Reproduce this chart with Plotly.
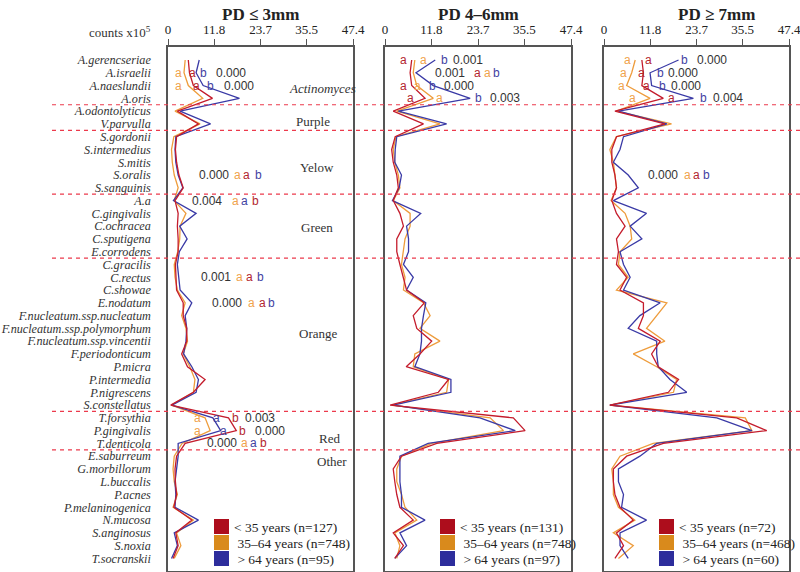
import plotly.graph_objects as go

species = [
    "A.gerencseriae", "A.israelii", "A.naeslundii", "A.oris",
    "A.odontolyticus", "V.parvulla",
    "S.gordonii", "S.intermedius", "S.mitis", "S.oralis", "S.sanguinis",
    "A.a", "C.gingivalis", "C.ochracea", "C.sputigena", "E.corrodens",
    "C.gracilis", "C.rectus", "C.showae", "E.nodatum",
    "F.nucleatum.ssp.nucleatum", "F.nucleatum.ssp.polymorphum",
    "F.nucleatum.ssp.vincentii", "F.periodonticum", "P.micra",
    "P.intermedia", "P.nigrescens", "S.constellatus",
    "T.forsythia", "P.gingivalis", "T.denticola",
    "E.saburreum", "G.morbillorum", "L.buccalis", "P.acnes",
    "P.melaninogenica", "N.mucosa", "S.anginosus", "S.noxia", "T.socranskii",
]
groups = ["Actinomyces", "Purple", "Yelow", "Green", "Orange", "Red", "Other"]
group_sizes = [4, 2, 5, 5, 12, 3, 9]

panels = ["PD \u2264 3mm", "PD 4\u20136mm", "PD \u2265 7mm"]
ages = ["< 35 years", "35\u201364 years", "> 64 years"]
n_pd3 = [127, 748, 95]
n_pd46 = [131, 748, 97]
n_pd7 = [72, 468, 60]
ticks = [0, 11.8, 23.7, 35.5, 47.4]

# mean counts x10^5, one value per species
pd3_young = [5.2, 5.5, 6.5, 11.4, 2.4, 7.8, 2.2, 1.9, 2.2, 2.8, 3.9, 1.8, 2.6, 2.4, 2.6, 2.6, 1.9, 2.0, 2.2, 3.9,
             3.9, 4.8, 4.8, 3.5, 5.0, 9.5, 6.5, 0.7, 15.5, 17.5, 4.4, 2.2, 1.8, 1.9, 2.2, 1.5, 6.1, 2.0, 2.6, 1.3]
pd3_mid = [4.4, 4.1, 5.2, 8.9, 1.8, 8.2, 1.5, 0.9, 1.1, 1.6, 2.6, 1.6, 4.6, 3.1, 3.0, 2.5, 1.6, 1.8, 2.4, 4.4,
           3.5, 4.6, 5.0, 3.9, 5.6, 6.9, 6.5, 0.9, 9.5, 10.8, 3.6, 1.6, 1.3, 1.6, 2.4, 1.3, 6.5, 2.2, 3.3, 1.6]
pd3_old = [8.0, 7.2, 9.0, 18.3, 3.1, 10.9, 2.0, 1.8, 2.0, 2.6, 3.8, 1.4, 7.2, 3.0, 4.9, 2.9, 2.4, 2.7, 3.1, 6.1,
           4.4, 4.8, 4.6, 4.0, 6.1, 7.8, 7.2, 1.0, 11.5, 13.5, 2.6, 2.6, 2.2, 1.8, 2.0, 1.8, 7.8, 1.6, 2.4, 0.9]

pd46_young = [6.8, 6.4, 6.8, 10.2, 2.1, 9.8, 2.6, 1.7, 2.1, 3.0, 3.4, 2.1, 3.8, 4.7, 3.0, 3.0, 3.8, 4.7, 5.5, 10.0,
              7.2, 8.1, 11.9, 8.9, 5.4, 16.2, 13.6, 1.3, 32.7, 35.7, 13.2, 4.2, 2.1, 2.5, 3.0, 3.8, 7.2, 2.1, 4.7, 2.5]
pd46_mid = [7.6, 7.2, 8.1, 12.3, 3.0, 14.0, 2.8, 2.1, 2.5, 3.4, 3.8, 2.1, 6.4, 6.4, 5.1, 4.7, 4.2, 5.1, 4.7, 9.8,
            11.5, 8.9, 14.0, 7.6, 7.2, 16.2, 15.7, 1.7, 26.8, 30.2, 11.9, 4.2, 3.0, 3.0, 4.2, 5.1, 8.1, 2.5, 3.8, 3.0]
pd46_old = [12.8, 7.9, 12.3, 21.7, 3.4, 15.7, 3.0, 2.6, 2.5, 4.2, 3.6, 1.9, 9.1, 5.5, 6.0, 6.0, 4.7, 7.2, 5.5, 10.4,
            9.8, 9.3, 9.3, 8.9, 7.6, 16.8, 16.8, 2.1, 24.2, 33.2, 11.0, 3.8, 3.8, 3.8, 4.2, 4.2, 10.2, 3.8, 5.5, 2.5]

pd7_young = [9.7, 10.1, 9.7, 15.2, 2.8, 15.6, 3.2, 2.0, 2.0, 2.8, 3.2, 2.0, 3.2, 5.4, 3.2, 3.7, 3.2, 5.8, 4.1, 10.1,
             10.1, 8.8, 14.4, 12.2, 13.9, 19.1, 16.5, 1.5, 34.0, 41.7, 15.2, 5.8, 2.4, 2.4, 2.8, 4.1, 7.5, 3.2, 5.0, 2.8]
pd7_mid = [8.0, 7.1, 5.8, 11.8, 3.2, 17.3, 3.2, 1.5, 2.4, 2.8, 3.2, 1.8, 5.4, 6.7, 7.1, 4.1, 3.7, 6.2, 3.2, 16.1,
           13.5, 10.9, 15.6, 7.5, 13.5, 18.6, 17.8, 1.5, 36.2, 37.9, 12.6, 4.1, 2.0, 2.4, 2.4, 3.7, 7.9, 2.4, 7.5, 3.7]
pd7_old = [19.1, 11.8, 12.2, 22.9, 3.7, 16.1, 5.0, 4.1, 2.4, 6.2, 8.8, 2.4, 10.9, 6.7, 9.7, 4.1, 5.0, 6.7, 5.0, 14.4,
           9.2, 6.2, 13.5, 13.5, 13.9, 16.9, 21.2, 1.5, 28.9, 37.9, 13.5, 9.2, 3.7, 3.7, 5.0, 4.5, 10.9, 4.1, 4.1, 6.2]

# p-values and letter groups: (panel, species row, p, x of p, [(letter, age, x)])
significance = [
    (0, 1, "0.000", 16.1, [("a", 1, 2.6), ("a", 0, 6.4), ("b", 2, 9.2)]),
    (0, 2, "0.000", 18.2, [("a", 1, 2.6), ("a", 0, 7.2), ("b", 2, 11.0)]),
    (0, 9, "0.000", 11.8, [("a", 1, 17.7), ("a", 0, 20.2), ("b", 2, 23.1)]),
    (0, 11, "0.004", 10.0, [("a", 1, 17.2), ("a", 2, 19.7), ("b", 0, 22.3)]),
    (0, 17, "0.001", 12.3, [("a", 1, 18.4), ("a", 0, 21.0), ("b", 2, 23.6)]),
    (0, 19, "0.000", 15.1, [("a", 1, 21.3), ("a", 0, 24.1), ("b", 2, 26.6)]),
    (0, 28, "0.003", 23.5, [("a", 1, 7.6), ("a", 2, 12.4), ("b", 0, 17.4)]),
    (0, 29, "0.000", 26.2, [("a", 1, 7.6), ("a", 2, 14.1), ("b", 0, 19.0)]),
    (0, 30, "0.000", 13.8, [("a", 1, 19.5), ("a", 2, 22.0), ("b", 0, 24.4)]),
    (1, 0, "0.001", 21.2, [("a", 0, 4.8), ("a", 1, 9.7), ("b", 2, 15.1)]),
    (1, 1, "0.001", 16.6, [("a", 0, 23.5), ("a", 1, 26.0), ("b", 2, 28.3)]),
    (1, 2, "0.000", 18.9, [("a", 0, 4.8), ("a", 1, 8.4), ("b", 2, 12.2)]),
    (1, 3, "0.003", 30.6, [("a", 0, 6.6), ("a", 1, 14.0), ("b", 2, 23.7)]),
    (2, 0, "0.000", 27.7, [("a", 1, 5.9), ("a", 0, 11.3), ("b", 2, 20.5)]),
    (2, 1, "0.000", 20.3, [("a", 1, 5.1), ("a", 0, 9.7), ("b", 2, 14.4)]),
    (2, 2, "0.000", 21.0, [("a", 1, 4.4), ("a", 0, 11.0), ("b", 2, 14.9)]),
    (2, 3, "0.004", 31.8, [("a", 1, 7.2), ("a", 0, 17.4), ("b", 2, 25.4)]),
    (2, 9, "0.000", 15.1, [("a", 1, 21.3), ("a", 0, 23.6), ("b", 2, 26.2)]),
]

group_label_y = [2.2, 4.8, 8.45, 13.1, 21.4, 29.6, 31.4]
group_label_x = [39.7, 37.2, 38.2, 38.2, 38.4, 41.5, 42.0]

line_colors = ["#c41c2c", "#ee9c3c", "#3a3aa6"]
box_colors = ["#ad0d1c", "#d98a1c", "#2d2d9c"]
letter_colors = ["#b3262e", "#f0a24c", "#4242a2"]
serif = "Liberation Serif"
sans = "Liberation Sans"

W, H = 800, 572
x_px = [(168, 353), (385, 571), (604, 789)]
y_top, y_bot = 47, 570.5
row0, row_step = 60, 12.78
rows = list(range(len(species)))


def px(x):
    return x / W


def py(y):
    return 1 - y / H


def note(**kw):
    kw.setdefault("showarrow", False)
    kw.setdefault("xanchor", "center")
    kw.setdefault("yanchor", "middle")
    fig.add_annotation(**kw)


series = [
    [pd3_young, pd3_mid, pd3_old],
    [pd46_young, pd46_mid, pd46_old],
    [pd7_young, pd7_mid, pd7_old],
]
counts = [n_pd3, n_pd46, n_pd7]

fig = go.Figure()
for p in range(3):
    sfx = "" if p == 0 else str(p + 1)
    for a in [1, 2, 0]:
        fig.add_trace(go.Scatter(
            x=series[p][a], y=rows, mode="lines",
            line=dict(color=line_colors[a], width=1.3),
            name=ages[a], xaxis="x" + sfx, yaxis="y" + sfx,
            showlegend=False, hoverinfo="skip",
        ))

layout = dict(
    width=W, height=H,
    margin=dict(l=0, r=0, t=0, b=0, autoexpand=False),
    paper_bgcolor="white", plot_bgcolor="white",
    showlegend=False,
)
yrange = [(y_bot - row0) / row_step, (y_top - row0) / row_step]
for p in range(3):
    sfx = "" if p == 0 else str(p + 1)
    layout["xaxis" + sfx] = dict(
        domain=[px(x_px[p][0]), px(x_px[p][1])], range=[0, 47.4],
        anchor="y" + sfx, side="top", automargin=False, ticklabeloverflow="allow",
        tickvals=ticks, ticktext=[str(t) if t else "0" for t in ticks],
        ticks="outside", ticklen=6, tickwidth=1.3, tickcolor="#555",
        tickfont=dict(family=serif, size=13, color="#222"),
        showline=True, linecolor="#555", linewidth=1.5, mirror=True,
        showgrid=False, zeroline=False,
    )
    ya = dict(
        domain=[py(y_bot), py(y_top)], range=yrange,
        anchor="x" + sfx, automargin=False, ticklabeloverflow="allow",
        showline=True, linecolor="#555", linewidth=1.5, mirror=True,
        showgrid=False, zeroline=False,
    )
    if p == 0:
        ya.update(tickvals=rows, ticktext=["<i>%s</i>" % s for s in species],
                  ticks="", ticklabelstandoff=13,
                  tickfont=dict(family=serif, size=12.2, color="#333"))
    else:
        ya.update(showticklabels=False, ticks="", matches="y")
    layout["yaxis" + sfx] = ya
fig.update_layout(**layout)

# red dashed separators between species groups
edge = -0.5
for size in group_sizes[:-1]:
    edge += size
    fig.add_shape(type="line", xref="paper", yref="y", x0=px(52), x1=1, y0=edge, y1=edge,
                  line=dict(color="#ec3a4c", width=1.2, dash="4px,4px"))

for g, gy, gx in zip(groups, group_label_y, group_label_x):
    txt = "<i>%s</i>" % g if g == "Actinomyces" else g
    note(x=gx, y=gy, xref="x", yref="y", text=txt,
         font=dict(family=serif, size=13, color="#333"))

for p, row, pval, xp, letters in significance:
    sfx = "" if p == 0 else str(p + 1)
    note(x=xp, y=row, xref="x" + sfx, yref="y", text=pval,
         font=dict(family=sans, size=12, color="#333"))
    for letter, a, xl in letters:
        note(x=xl, y=row, xref="x" + sfx, yref="y", text=letter,
             font=dict(family=sans, size=12, color=letter_colors[a]))

# panel titles and axis caption
title_x = [260, 478, 716]
for t, tx in zip(panels, title_x):
    note(x=px(tx), y=py(14), xref="paper", yref="paper", text="<b>%s</b>" % t,
         font=dict(family=serif, size=17, color="#222"))
note(x=px(153), y=py(32), xref="paper", yref="paper", xanchor="right",
     text="counts x10<sup>5</sup>", font=dict(family=serif, size=13, color="#333"))

# legends
leg_x = [214, 440, 659]
leg_y = [519, 535, 551]
for p in range(3):
    for a in range(3):
        x0, y0 = leg_x[p], leg_y[a]
        fig.add_shape(type="rect", xref="paper", yref="paper",
                      x0=px(x0), x1=px(x0 + 15), y0=py(y0), y1=py(y0 + 15),
                      fillcolor=box_colors[a], line=dict(width=0))
        lead = "" if a == 0 else "\u00a0"
        note(x=px(x0 + 18), y=py(y0 + 8), xref="paper", yref="paper", xanchor="left",
             text="%s%s (n=%d)" % (lead, ages[a], counts[p][a]),
             font=dict(family=serif, size=13.5, color="#222"))

# the default page margin would push the 800x572 figure off the window
fig.write_html("out.html", config={"displayModeBar": False},
               post_script="document.body.style.margin='0px';")
